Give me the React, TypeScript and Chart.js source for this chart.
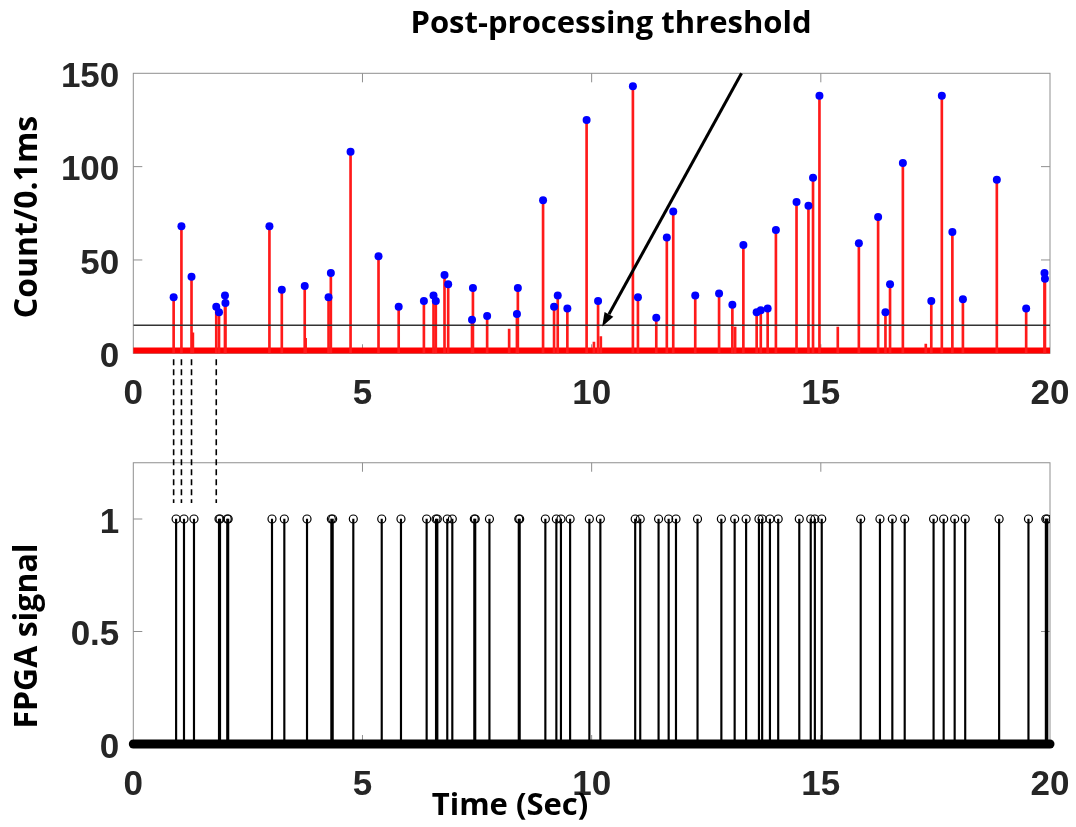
import React, { useEffect, useRef } from "react";
import { Chart, registerables } from "chart.js";
Chart.register(...registerables);

// ---------- data ----------
const xTicks = [0, 5, 10, 15, 20];
const countTicks = [0, 50, 100, 150];
const fpgaTicks = [0, 0.5, 1];

const peakTimes = [
  0.88, 1.05, 1.27, 1.81, 1.87, 2.0, 2.01, 2.97, 3.24, 3.74,
  4.26, 4.31, 4.74, 5.35, 5.79, 6.34, 6.55, 6.6, 6.79, 6.87,
  7.39, 7.41, 7.72, 8.37, 8.39, 8.94, 9.18, 9.26, 9.47, 9.89,
  10.14, 10.9, 11.01, 11.41, 11.64, 11.78, 12.26, 12.78, 13.07, 13.31,
  13.6, 13.69, 13.84, 14.02, 14.47, 14.73, 14.83, 14.97, 15.83, 16.25,
  16.41, 16.51, 16.79, 17.41, 17.64, 17.87, 18.1, 18.84, 19.48, 19.88,
  19.89,
];
const peakCounts = [
  30, 68, 41, 25, 22, 31, 27, 68, 34, 36,
  30, 43, 108, 52, 25, 28, 31, 28, 42, 37,
  18, 35, 20, 21, 35, 82, 25, 31, 24, 125,
  28, 143, 30, 19, 62, 76, 31, 32, 26, 58,
  22, 23, 24, 66, 81, 79, 94, 138, 59, 73,
  22, 37, 102, 28, 138, 65, 29, 93, 24, 43,
  40,
];
const subThresholdTimes = [1.3, 3.76, 8.2, 10.05, 10.2, 13.13, 15.37, 17.29];
const subThresholdCounts = [11, 8, 13, 6, 9, 14, 14, 5];
const noiseFloor = 1.5;
const threshold = 15;
const markedPeaks = [0.88, 1.05, 1.27, 1.81];
const arrowFrom = { x: 13.27, y: 150 };
const arrowTo = { x: 10.23, y: 14.3 };

const fpgaTimes = [
  0.934, 1.106, 1.324, 1.87, 1.892, 2.05, 2.07, 3.026, 3.295, 3.79,
  4.321, 4.35, 4.8, 5.42, 5.84, 6.4, 6.605, 6.633, 6.85, 6.96,
  7.44, 7.46, 7.77, 8.41, 8.43, 8.99, 9.23, 9.33, 9.53, 9.95,
  10.19, 10.95, 11.06, 11.46, 11.68, 11.84, 12.31, 12.83, 13.12, 13.37,
  13.65, 13.72, 13.89, 14.07, 14.53, 14.78, 14.87, 15.02, 15.87, 16.29,
  16.56, 16.83, 17.46, 17.68, 17.92, 18.15, 18.89, 19.53, 19.91, 19.94,
];
const fpgaLevel = 1;

// ---------- helpers ----------
const tickFont = { family: "'Liberation Sans', Arial, sans-serif", size: 35, weight: "bold" as const };
const titleFamily = "'Open Sans', 'Noto Sans', sans-serif";

function framePlugin(xT: number[], yT: number[]) {
  return {
    id: "frame",
    beforeDatasetsDraw(chart: any) {
      const { ctx, chartArea: a, scales } = chart;
      const x = scales.x, y = scales.y;
      ctx.save();
      ctx.strokeStyle = "#8f8f8f";
      ctx.lineWidth = 1;
      ctx.strokeRect(a.left, a.top, a.right - a.left, a.bottom - a.top);
      const L = 9;
      ctx.beginPath();
      xT.forEach((v) => {
        if (v > x.min && v < x.max) {
          const px = x.getPixelForValue(v);
          ctx.moveTo(px, a.bottom); ctx.lineTo(px, a.bottom - L);
          ctx.moveTo(px, a.top); ctx.lineTo(px, a.top + L);
        }
      });
      yT.forEach((v) => {
        if (v > y.min && v < y.max) {
          const py = y.getPixelForValue(v);
          ctx.moveTo(a.left, py); ctx.lineTo(a.left + L, py);
          ctx.moveTo(a.right, py); ctx.lineTo(a.right - L, py);
        }
      });
      ctx.stroke();
      ctx.restore();
    },
  };
}

function vText(ctx: CanvasRenderingContext2D, text: string, x: number, y: number, size: number) {
  ctx.save();
  ctx.translate(x, y);
  ctx.rotate(-Math.PI / 2);
  ctx.font = `bold ${size}px ${titleFamily}`;
  ctx.fillStyle = "#000";
  ctx.textAlign = "center";
  ctx.textBaseline = "alphabetic";
  ctx.fillText(text, 0, 0);
  ctx.restore();
}

const topDecor = {
  id: "topDecor",
  afterDraw(chart: any) {
    const { ctx, chartArea: a, scales } = chart;
    const x = scales.x, y = scales.y;
    ctx.save();
    // title
    ctx.font = `bold 31px ${titleFamily}`;
    ctx.fillStyle = "#000";
    ctx.textAlign = "center";
    ctx.textBaseline = "alphabetic";
    ctx.fillText("Post-processing threshold", 611, 33);
    vText(ctx, "Count/0.1ms", 37, 217, 32);
    // arrow
    const x0 = x.getPixelForValue(arrowFrom.x), y0 = y.getPixelForValue(arrowFrom.y);
    const x1 = x.getPixelForValue(arrowTo.x), y1 = y.getPixelForValue(arrowTo.y);
    const ang = Math.atan2(y1 - y0, x1 - x0);
    const hl = 14, hw = 5;
    const bx = x1 - hl * Math.cos(ang), by = y1 - hl * Math.sin(ang);
    ctx.strokeStyle = "#000";
    ctx.lineWidth = 3;
    ctx.beginPath();
    ctx.moveTo(x0, y0);
    ctx.lineTo(bx, by);
    ctx.stroke();
    ctx.beginPath();
    ctx.moveTo(x1, y1);
    ctx.lineTo(bx + hw * Math.sin(ang), by - hw * Math.cos(ang));
    ctx.lineTo(bx - hw * Math.sin(ang), by + hw * Math.cos(ang));
    ctx.closePath();
    ctx.fillStyle = "#000";
    ctx.fill();
    // dashed guide lines down to the FPGA panel
    ctx.setLineDash([6, 4]);
    ctx.lineWidth = 1.6;
    markedPeaks.forEach((t) => {
      const px = x.getPixelForValue(t);
      ctx.beginPath();
      ctx.moveTo(px, a.bottom + 6);
      ctx.lineTo(px, 503);
      ctx.stroke();
    });
    ctx.restore();
  },
};

const botDecor = {
  id: "botDecor",
  afterDraw(chart: any) {
    const { ctx } = chart;
    ctx.save();
    ctx.font = `bold 31px ${titleFamily}`;
    ctx.fillStyle = "#000";
    ctx.textAlign = "center";
    ctx.textBaseline = "alphabetic";
    ctx.fillText("Time (Sec)", 510, 395);
    vText(ctx, "FPGA signal", 37, 216, 32);
    ctx.restore();
  },
};

function xScale() {
  return {
    type: "linear" as const,
    min: 0,
    max: 20,
    offset: false,
    afterBuildTicks: (s: any) => { s.ticks = xTicks.map((v) => ({ value: v })); },
    afterFit: (s: any) => { s.height = 60; s.paddingLeft = 0; s.paddingRight = 0; },
    grid: { display: false, drawTicks: false },
    border: { display: false },
    ticks: { font: tickFont, color: "#262626", padding: 20, maxRotation: 0, autoSkip: false, callback: (v: any) => String(v) },
  };
}

function yScale(min: number, max: number, tk: number[]) {
  return {
    type: "linear" as const,
    min,
    max,
    afterBuildTicks: (s: any) => { s.ticks = tk.map((v) => ({ value: v })); },
    afterFit: (s: any) => { s.width = 133.3; s.paddingTop = 0; s.paddingBottom = 0; },
    grid: { display: false, drawTicks: false },
    border: { display: false },
    ticks: { font: tickFont, color: "#262626", padding: 14, labelOffset: 4, autoSkip: false, callback: (v: any) => String(v) },
  };
}

export default function App() {
  const topRef = useRef<HTMLCanvasElement>(null);
  const botRef = useRef<HTMLCanvasElement>(null);

  useEffect(() => {
    const peaks = peakTimes.map((t, i) => ({ x: t, y: peakCounts[i] }));
    const subs = subThresholdTimes.map((t, i) => ({ x: t, y: subThresholdCounts[i] }));
    const top = new Chart(topRef.current as HTMLCanvasElement, {
      type: "bar",
      data: {
        datasets: [
          { type: "line", data: [{ x: 0, y: noiseFloor }, { x: 20, y: noiseFloor }], borderColor: "#ff0000", borderWidth: 6, pointRadius: 0, clip: false, order: 4 } as any,
          { type: "bar", data: peaks, backgroundColor: "#ff1a1a", barThickness: 2, grouped: false, order: 3 } as any,
          { type: "bar", data: subs, backgroundColor: "#ff1a1a", barThickness: 2, grouped: false, order: 3 } as any,
          { type: "line", data: [{ x: 0, y: threshold }, { x: 20, y: threshold }], borderColor: "#333333", borderWidth: 1.5, pointRadius: 0, order: 1 } as any,
          { type: "line", data: peaks, showLine: false, pointRadius: 4, pointBackgroundColor: "#0000ff", pointBorderWidth: 0, order: 0 } as any,
        ],
      },
      options: {
        animation: false,
        responsive: false,
        maintainAspectRatio: false,
        events: [],
        layout: { padding: { left: 0, right: 26, top: 73.3, bottom: 106.7 } },
        plugins: { legend: { display: false }, tooltip: { enabled: false } },
        scales: { x: xScale(), y: yScale(0, 150, countTicks) } as any,
      },
      plugins: [framePlugin(xTicks, countTicks), topDecor],
    });

    const fpga = fpgaTimes.map((t) => ({ x: t, y: fpgaLevel }));
    const bot = new Chart(botRef.current as HTMLCanvasElement, {
      type: "bar",
      data: {
        datasets: [
          { type: "bar", data: fpga, backgroundColor: "#000", barThickness: 1.5, grouped: false, order: 3 } as any,
          { type: "line", data: [{ x: 0, y: 0 }, { x: 20, y: 0 }], borderColor: "#000", borderWidth: 9, borderCapStyle: "round", pointRadius: 0, clip: false, order: 2 } as any,
          { type: "line", data: fpga, showLine: false, pointRadius: 4, pointBackgroundColor: "rgba(255,255,255,0)", pointBorderColor: "#000", pointBorderWidth: 1.2, order: 0 } as any,
        ],
      },
      options: {
        animation: false,
        responsive: false,
        maintainAspectRatio: false,
        events: [],
        layout: { padding: { left: 0, right: 26, top: 42.75, bottom: 23 } },
        plugins: { legend: { display: false }, tooltip: { enabled: false } },
        scales: { x: xScale(), y: yScale(0, 1.25, fpgaTicks) } as any,
      },
      plugins: [framePlugin(xTicks, fpgaTicks), botDecor],
    });

    return () => { top.destroy(); bot.destroy(); };
  }, []);

  return (
    <div style={{ position: "absolute", left: 0, top: 0, width: 1076, height: 827, background: "#fff", overflow: "hidden" }}>
      <canvas ref={botRef} width={1076} height={407} style={{ position: "absolute", left: 0, top: 420, width: 1076, height: 407 }} />
      <canvas ref={topRef} width={1076} height={520} style={{ position: "absolute", left: 0, top: 0, width: 1076, height: 520 }} />
    </div>
  );
}
